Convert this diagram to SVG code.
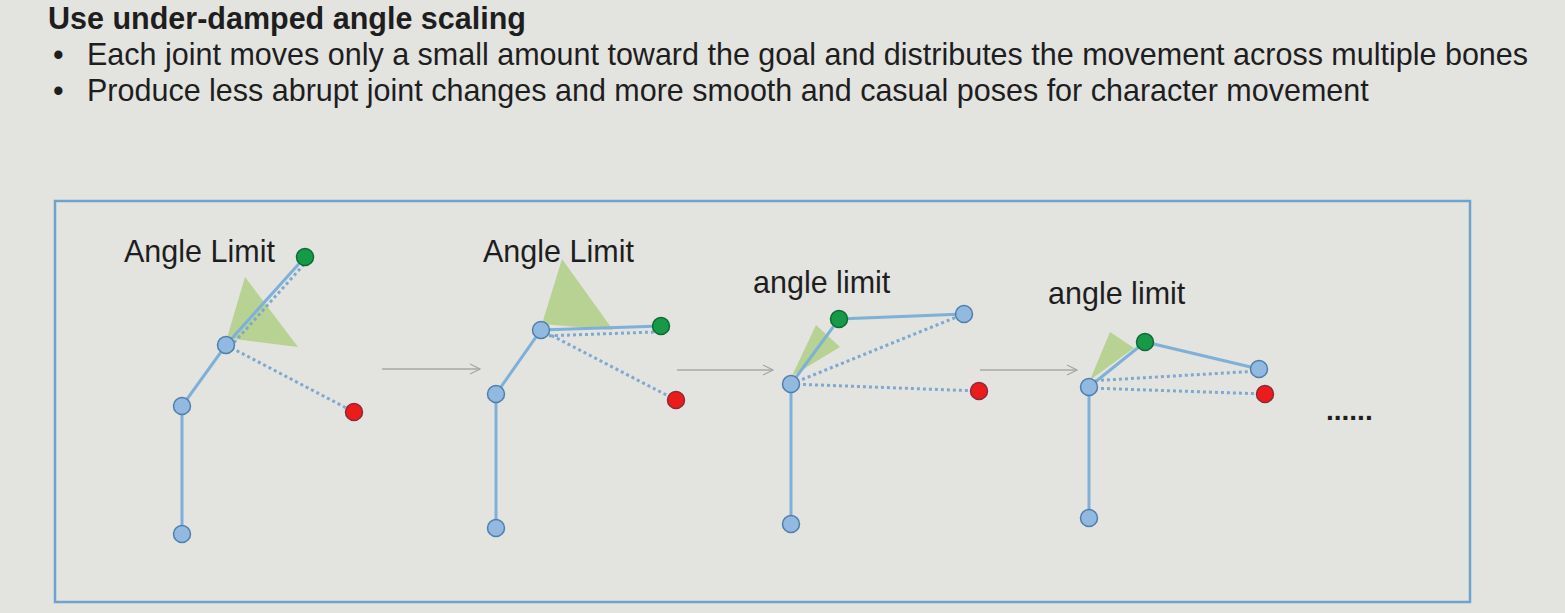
<svg xmlns="http://www.w3.org/2000/svg" width="1565" height="613" viewBox="0 0 1565 613">
<defs>
<style>
text{font-family:"Liberation Sans",Arial,sans-serif;fill:#1e1e1e}
.title{font-size:30.5px;font-weight:bold}
.body{font-size:30.5px}
.lbl{font-size:30.5px}
.bone{stroke:#7fb0d8;stroke-width:3;fill:none;stroke-linecap:round}
.dot{stroke:#7fa9cf;stroke-width:3;stroke-dasharray:3 3;fill:none}
.tri{fill:#a9cc7a;fill-opacity:0.75}
.j{fill:#92b9e0;stroke:#4f7fab;stroke-width:1.5}
.g{fill:#169a48;stroke:#0d6b33;stroke-width:1.5}
.r{fill:#ec1c1c;stroke:#8b2a3a;stroke-width:1.5}
.arr{stroke:#a8a8a4;stroke-width:1.5;fill:none}
</style>
<marker id="ah" viewBox="0 0 12 12" refX="11" refY="6" markerWidth="12" markerHeight="12" markerUnits="userSpaceOnUse" orient="auto">
<path d="M1,1 L11,6 L1,11" fill="none" stroke="#a8a8a4" stroke-width="1.3"/>
</marker>
</defs>
<rect width="1565" height="613" fill="#e3e3e0"/>
<g id="header">
<text class="title" x="48" y="29">Use under-damped angle scaling</text>
<text class="body" x="53" y="65">•</text>
<text class="body" x="87" y="65">Each joint moves only a small amount toward the goal and distributes the movement across multiple bones</text>
<text class="body" x="53" y="101">•</text>
<text class="body" x="87" y="101">Produce less abrupt joint changes and more smooth and casual poses for character movement</text>
</g>
<rect id="frame" x="55" y="201" width="1415" height="401" fill="none" stroke="#6fa2cc" stroke-width="2.5"/>
<g id="connectors">
<line class="arr" x1="382" y1="369" x2="480" y2="369" marker-end="url(#ah)"/>
<line class="arr" x1="677" y1="370" x2="773" y2="370" marker-end="url(#ah)"/>
<line class="arr" x1="980" y1="370" x2="1077" y2="370" marker-end="url(#ah)"/>
</g>
<g id="pose1">
<text class="lbl" x="124" y="262">Angle Limit</text>
<polygon class="tri" points="245,277 298,347 227,338"/>
<polyline class="bone" points="182,534 182,406 226,345 305,257"/>
<line class="dot" x1="230" y1="347" x2="308" y2="260"/>
<line class="dot" x1="226" y1="345" x2="354" y2="412"/>
<circle class="j" cx="182" cy="534" r="8.5"/>
<circle class="j" cx="182" cy="406" r="8.5"/>
<circle class="j" cx="226" cy="345" r="8.5"/>
<circle class="g" cx="305" cy="257" r="8.5"/>
<circle class="r" cx="354" cy="412" r="8.5"/>
</g>
<g id="pose2">
<text class="lbl" x="483" y="262">Angle Limit</text>
<polygon class="tri" points="562,259 613,330 542,324"/>
<polyline class="bone" points="496,528 496,394 541,330 661,326"/>
<line class="dot" x1="543" y1="336" x2="655" y2="332"/>
<line class="dot" x1="541" y1="330" x2="676" y2="400"/>
<circle class="j" cx="496" cy="528" r="8.5"/>
<circle class="j" cx="496" cy="394" r="8.5"/>
<circle class="j" cx="541" cy="330" r="8.5"/>
<circle class="g" cx="661" cy="326" r="8.5"/>
<circle class="r" cx="676" cy="400" r="8.5"/>
</g>
<g id="pose3">
<text class="lbl" x="753" y="293">angle limit</text>
<polygon class="tri" points="816,325 840,347 792,376"/>
<polyline class="bone" points="791,524 791,384 839,319 964,314"/>
<line class="dot" x1="791" y1="384" x2="964" y2="314"/>
<line class="dot" x1="791" y1="384" x2="979" y2="391"/>
<circle class="j" cx="791" cy="524" r="8.5"/>
<circle class="j" cx="791" cy="384" r="8.5"/>
<circle class="g" cx="839" cy="319" r="8.5"/>
<circle class="j" cx="964" cy="314" r="8.5"/>
<circle class="r" cx="979" cy="391" r="8.5"/>
</g>
<g id="pose4">
<text class="lbl" x="1048" y="304">angle limit</text>
<polygon class="tri" points="1110,332 1134,348 1090,380"/>
<polyline class="bone" points="1089,518 1089,387 1145,342 1259,369"/>
<line class="dot" x1="1089" y1="381" x2="1259" y2="371"/>
<line class="dot" x1="1089" y1="388" x2="1265" y2="394"/>
<circle class="j" cx="1089" cy="518" r="8.5"/>
<circle class="j" cx="1089" cy="387" r="8.5"/>
<circle class="g" cx="1145" cy="342" r="8.5"/>
<circle class="j" cx="1259" cy="369" r="8.5"/>
<circle class="r" cx="1265" cy="394" r="8.5"/>
</g>
<text id="ellipsis" x="1326" y="420" style="font-size:28px;font-weight:bold">......</text>
</svg>
